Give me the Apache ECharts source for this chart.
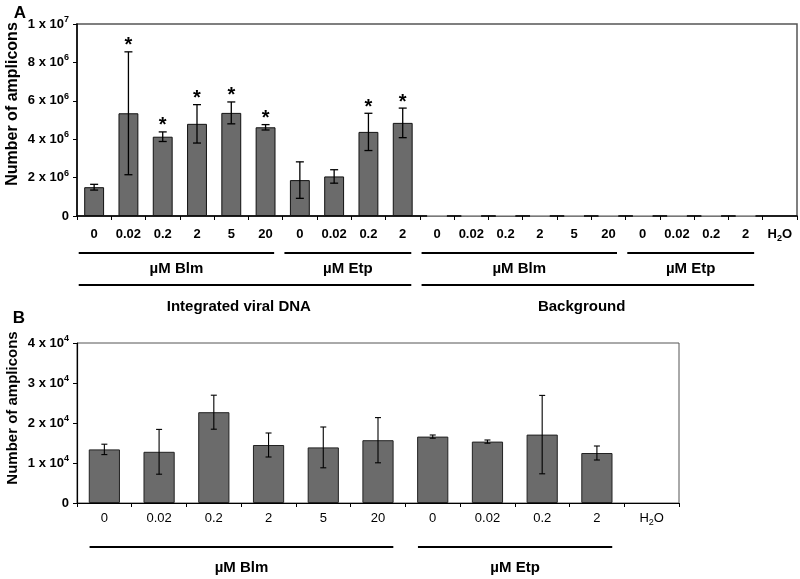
<!DOCTYPE html>
<html><head><meta charset="utf-8">
<script src="https://cdn.jsdelivr.net/npm/echarts@6/dist/echarts.min.js"></script>
<style>html,body{margin:0;padding:0;background:#fff}#c{width:800px;height:579px}</style>
</head><body><div id="c"></div>
<script>
// ---------- DATA ----------
const categoriesA = ['0','0.02','0.2','2','5','20','0','0.02','0.2','2','0','0.02','0.2','2','5','20','0','0.02','0.2','2','H2O'];
const integratedValues = [1.5e6, 5.35e6, 4.13e6, 4.8e6, 5.37e6, 4.62e6, 1.87e6, 2.06e6, 4.38e6, 4.85e6];
const integratedErrors = [0.15e6, 3.2e6, 0.25e6, 1.0e6, 0.57e6, 0.14e6, 0.95e6, 0.35e6, 0.97e6, 0.77e6];
const integratedStars  = [false, true, true, true, true, true, false, false, true, true];
const backgroundValues = [13400, 12800, 22700, 14500, 13900, 15700, 16600, 15350, 17100, 12500];
const backgroundErrors = [1300, 5600, 4250, 3000, 5100, 5650, 400, 400, 9800, 1750];
const waterValue = 0;
const yTicksA = {min: 0, max: 1e7, interval: 2e6};

const categoriesB = ['0','0.02','0.2','2','5','20','0','0.02','0.2','2','H2O'];
const yTicksB = {min: 0, max: 4e4, interval: 1e4};

const groupLabelsA = ['µM Blm','µM Etp','µM Blm','µM Etp'];
const groupFirstA = [0, 6, 10, 16];
const groupLastA  = [5, 9, 15, 19];
const superLabelsA = ['Integrated viral DNA','Background'];
const superFirstA = [0, 10];
const superLastA  = [9, 19];
const groupLabelsB = ['µM Blm','µM Etp'];
const groupFirstB = [0, 6];
const groupLastB  = [5, 9];
const yAxisTitle = 'Number of amplicons';

// ---------- BUILD ----------
const FONT = '"Liberation Sans", Arial, Helvetica, sans-serif';
const valuesA = integratedValues.concat(backgroundValues, [waterValue]);
const valuesB = backgroundValues.concat([waterValue]);

function sciLabel(v){
  if (v === 0) return '{b|0}';
  const e = Math.floor(Math.log10(v) + 1e-9);
  const m = Math.round(v / Math.pow(10, e));
  return '{b|' + m + ' x 10}{s|' + e + '}';
}
const yRich = {
  b: {fontSize: 13, fontWeight: 'bold', fontFamily: FONT, color: '#000', lineHeight: 18},
  s: {fontSize: 9, fontWeight: 'bold', fontFamily: FONT, color: '#000', verticalAlign: 'top', lineHeight: 10}
};
function xLabel(v){
  if (v === 'H2O') return '{b|H}{sub|2}{b|O}';
  return '{b|' + v + '}';
}
function xRich(weight){
  return {
    b: {fontSize: 13, fontWeight: weight, fontFamily: FONT, color: '#000', lineHeight: 18},
    sub: {fontSize: 9, fontWeight: weight, fontFamily: FONT, color: '#000', verticalAlign: 'bottom', lineHeight: 10}
  };
}

function errRender(capHalf, lw){
  return function(params, api){
    const x = api.value(0), v = api.value(1), e = api.value(2), s = api.value(3);
    const top = api.coord([x, v + e]);
    const bot = api.coord([x, v - e]);
    const st = {stroke: '#000', lineWidth: lw};
    const children = [
      {type: 'line', shape: {x1: top[0], y1: top[1], x2: bot[0], y2: bot[1]}, style: st},
      {type: 'line', shape: {x1: top[0] - capHalf, y1: top[1], x2: top[0] + capHalf, y2: top[1]}, style: st},
      {type: 'line', shape: {x1: bot[0] - capHalf, y1: bot[1], x2: bot[0] + capHalf, y2: bot[1]}, style: st}
    ];
    if (s) {
      children.push({type: 'text', x: top[0], y: top[1] - 6,
        style: {text: '*', fontSize: 20, fontWeight: 'bold', fontFamily: FONT, fill: '#000', align: 'center', verticalAlign: 'middle'}});
    }
    return {type: 'group', children: children};
  };
}

function barItem(v, faint){
  if (v === 0) return {value: v, itemStyle: {borderWidth: 0, color: 'transparent'}};
  if (faint) return {value: v, itemStyle: {borderColor: '#bbb', color: '#ccc'}};
  return v;
}
const barDataA = valuesA.map(function(v, i){ return barItem(v, i >= integratedValues.length); });
const barDataB = valuesB.map(function(v){ return barItem(v, false); });
const errDataA = integratedValues.map(function(v, i){ return [i, v, integratedErrors[i], integratedStars[i] ? 1 : 0]; });
const errDataB = backgroundValues.map(function(v, i){ return [i, v, backgroundErrors[i], 0]; });

const chart = echarts.init(document.getElementById('c'), null, {renderer: 'canvas'});
const option = {
  animation: false,
  backgroundColor: '#fff',
  grid: [
    {left: 77, top: 24, width: 720, height: 192, show: true, borderColor: '#555', borderWidth: 1.5, backgroundColor: 'transparent', outerBoundsMode: 'none'},
    {left: 77, top: 343, width: 602, height: 160, show: true, borderColor: '#555', borderWidth: 1, backgroundColor: 'transparent', outerBoundsMode: 'none'}
  ],
  xAxis: [
    {type: 'category', gridIndex: 0, data: categoriesA, boundaryGap: true,
     axisLine: {lineStyle: {color: '#000', width: 1.5}},
     axisTick: {show: true, inside: false, length: 4, lineStyle: {color: '#000', width: 1}},
     axisLabel: {interval: 0, margin: 9, formatter: xLabel, rich: xRich('bold')},
     splitLine: {show: false}},
    {type: 'category', gridIndex: 1, data: categoriesB, boundaryGap: true,
     axisLine: {lineStyle: {color: '#000', width: 1.2}},
     axisTick: {show: true, inside: false, length: 4, lineStyle: {color: '#000', width: 1}},
     axisLabel: {interval: 0, margin: 6, formatter: xLabel, rich: xRich('normal')},
     splitLine: {show: false}}
  ],
  yAxis: [
    {type: 'value', gridIndex: 0, min: yTicksA.min, max: yTicksA.max, interval: yTicksA.interval,
     axisLine: {show: true, lineStyle: {color: '#000', width: 1.5}},
     axisTick: {show: true, inside: false, length: 4, lineStyle: {color: '#000'}},
     axisLabel: {margin: 8, formatter: sciLabel, rich: yRich},
     splitLine: {show: false}},
    {type: 'value', gridIndex: 1, min: yTicksB.min, max: yTicksB.max, interval: yTicksB.interval,
     axisLine: {show: true, lineStyle: {color: '#000', width: 1.2}},
     axisTick: {show: true, inside: false, length: 4, lineStyle: {color: '#000'}},
     axisLabel: {margin: 8, formatter: sciLabel, rich: yRich},
     splitLine: {show: false}}
  ],
  series: [
    {type: 'bar', xAxisIndex: 0, yAxisIndex: 0, data: barDataA, barCategoryGap: '42%',
     itemStyle: {color: '#6b6b6b', borderColor: '#111', borderWidth: 1}},
    {type: 'custom', xAxisIndex: 0, yAxisIndex: 0, data: errDataA, renderItem: errRender(4, 1.3), z: 5},
    {type: 'bar', xAxisIndex: 1, yAxisIndex: 1, data: barDataB, barCategoryGap: '43%',
     itemStyle: {color: '#6b6b6b', borderColor: '#222', borderWidth: 1}},
    {type: 'custom', xAxisIndex: 1, yAxisIndex: 1, data: errDataB, renderItem: errRender(3, 1.1), z: 5}
  ]
};
chart.setOption(option);

// ---------- ANNOTATIONS (positions derived from the axes) ----------
function px(axisIdx, i){ return chart.convertToPixel({xAxisIndex: axisIdx}, i); }
const g = [];
function hline(x1, x2, y, w){ g.push({type: 'line', shape: {x1: x1, y1: y, x2: x2, y2: y}, style: {stroke: '#000', lineWidth: w}}); }
function label(txt, x, y, size, rot){
  g.push({type: 'text', x: x, y: y, rotation: rot || 0,
    style: {text: txt, fontSize: size, fontWeight: 'bold', fontFamily: FONT, fill: '#000', align: 'center', verticalAlign: 'middle'}});
}
const wA = px(0, 1) - px(0, 0);
for (let k = 0; k < groupLabelsA.length; k++){
  const x1 = px(0, groupFirstA[k]) - 0.45 * wA, x2 = px(0, groupLastA[k]) + 0.25 * wA;
  hline(x1, x2, 253, 2.2);
  label(groupLabelsA[k], (x1 + x2) / 2, 269, 15);
}
for (let k = 0; k < superLabelsA.length; k++){
  const x1 = px(0, superFirstA[k]) - 0.45 * wA, x2 = px(0, superLastA[k]) + 0.25 * wA;
  hline(x1, x2, 285, 2.2);
  label(superLabelsA[k], (x1 + x2) / 2 - 0.18 * wA, 307, 15);
}
const wB = px(1, 1) - px(1, 0);
for (let k = 0; k < groupLabelsB.length; k++){
  const x1 = px(1, groupFirstB[k]) - 0.27 * wB, x2 = px(1, groupLastB[k]) + 0.28 * wB;
  hline(x1, x2, 547, 2);
  label(groupLabelsB[k], (x1 + x2) / 2, 568, 15);
}
label('A', 20, 13, 17);
label('B', 19, 318, 17);
label(yAxisTitle, 13, 104, 16, Math.PI / 2);
label(yAxisTitle, 13, 408, 15, Math.PI / 2);
chart.setOption({graphic: g});
</script>
</body></html>
